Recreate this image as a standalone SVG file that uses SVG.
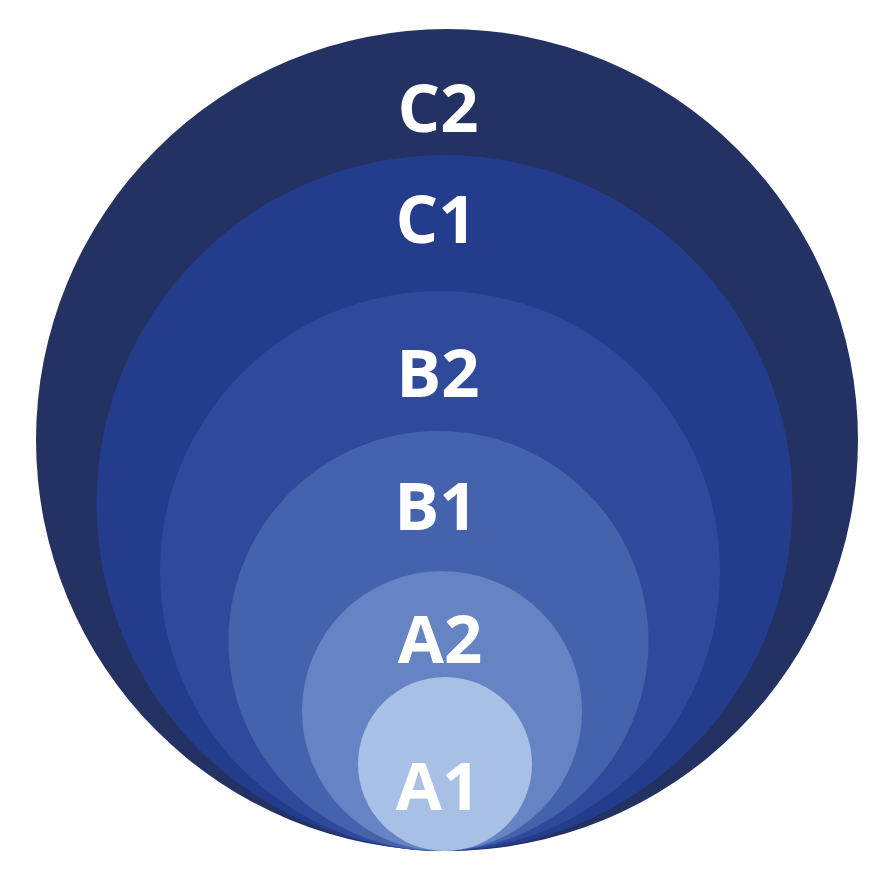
<svg xmlns="http://www.w3.org/2000/svg" width="880" height="885" viewBox="0 0 880 885">
<style>
text{font-family:"Open Sans","Liberation Sans",sans-serif;font-weight:700;font-size:67px;fill:#fff;text-anchor:middle}
</style>
<rect width="880" height="885" fill="#fff"/>
<g id="C2"><circle cx="447" cy="440" r="411" fill="#233163"/><text x="438" y="132">C2</text></g>
<g id="C1"><circle cx="444.5" cy="503" r="348" fill="#233c8b"/><text x="436" y="243">C1</text></g>
<g id="B2"><circle cx="440" cy="571" r="280" fill="#2f4a9a"/><text x="438" y="397">B2</text></g>
<g id="B1"><circle cx="438.5" cy="641" r="210" fill="#4463ac"/><text x="436" y="530">B1</text></g>
<g id="A2"><circle cx="442" cy="711" r="140" fill="#6683c4"/><text x="440" y="663">A2</text></g>
<g id="A1"><circle cx="445" cy="764" r="87" fill="#a8bfe6"/><text x="438" y="810">A1</text></g>
<g id="connectors"/>
</svg>
